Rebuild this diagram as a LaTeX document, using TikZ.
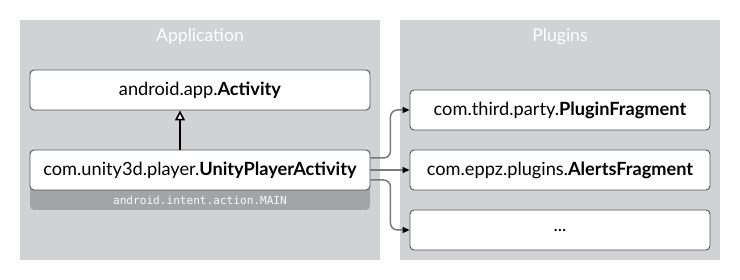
\documentclass[tikz,border=0pt]{standalone}
\usepackage{fontspec}
\setmainfont{Lato}
\setmonofont{DejaVu Sans Mono}
\usetikzlibrary{arrows.meta}
\definecolor{panelcol}{HTML}{D1D2D4}
\definecolor{stripcol}{HTML}{A3A4A7}
\definecolor{boxline}{HTML}{555555}
\definecolor{conncol}{HTML}{7A7A7A}
\tikzset{
  panel/.style={fill=panelcol},
  title/.style={text=white, font=\fontsize{17.6}{20}\selectfont},
  box/.style={draw=boxline, line width=0.9pt, fill=white, rounded corners=4pt, minimum height=40pt, inner sep=0pt, font=\fontsize{18.2}{21}\selectfont},
  appbox/.style={box, minimum width=340pt},
  plugbox/.style={box, minimum width=300pt},
  conn/.style={draw=conncol, line width=1.5pt, rounded corners=7pt, -{Triangle[length=7pt,width=6pt,fill=black,color=black]}},
  inherit/.style={line width=1.6pt, -{Triangle[open,length=10pt,width=10pt,fill=white]}}
}
\begin{document}
\begin{tikzpicture}[x=1pt,y=-1pt]
\useasboundingbox (0,0) rectangle (740,280);
\fill[panel] (20,20) rectangle (380,260);
\fill[panel] (400,20) rectangle (720,260);
\node[title] (apptitle) at (200,37) {Application};
\node[title] (plugtitle) at (560,37) {Plugins};
\fill[stripcol, rounded corners=4pt] (30,175) rectangle (370,210);
\node[text=white!95!gray, font=\ttfamily\fontsize{11.1}{13}\selectfont] (intent) at (200,200) {android.intent.action.MAIN};
\node[appbox] (act) at (200,90) {android.app.\textbf{Activity}};
\node[appbox] (unity) at (200,170) {com.unity3d.player.\textbf{UnityPlayerActivity}};
\node[plugbox] (p1) at (560,110) {com.third.party.\textbf{PluginFragment}};
\node[plugbox] (p2) at (560,170) {com.eppz.plugins.\textbf{AlertsFragment}};
\node[plugbox] (p3) at (560,230) {...};
\draw[inherit] ([xshift=-20pt]unity.north) -- ([xshift=-20pt]act.south);
\draw[conn] ([yshift=12pt]unity.east) -- ++(20,0) |- (p1.west);
\draw[conn] (unity.east) -- (p2.west);
\draw[conn] ([yshift=-10pt]unity.east) -- ++(20,0) |- (p3.west);
\end{tikzpicture}
\end{document}
